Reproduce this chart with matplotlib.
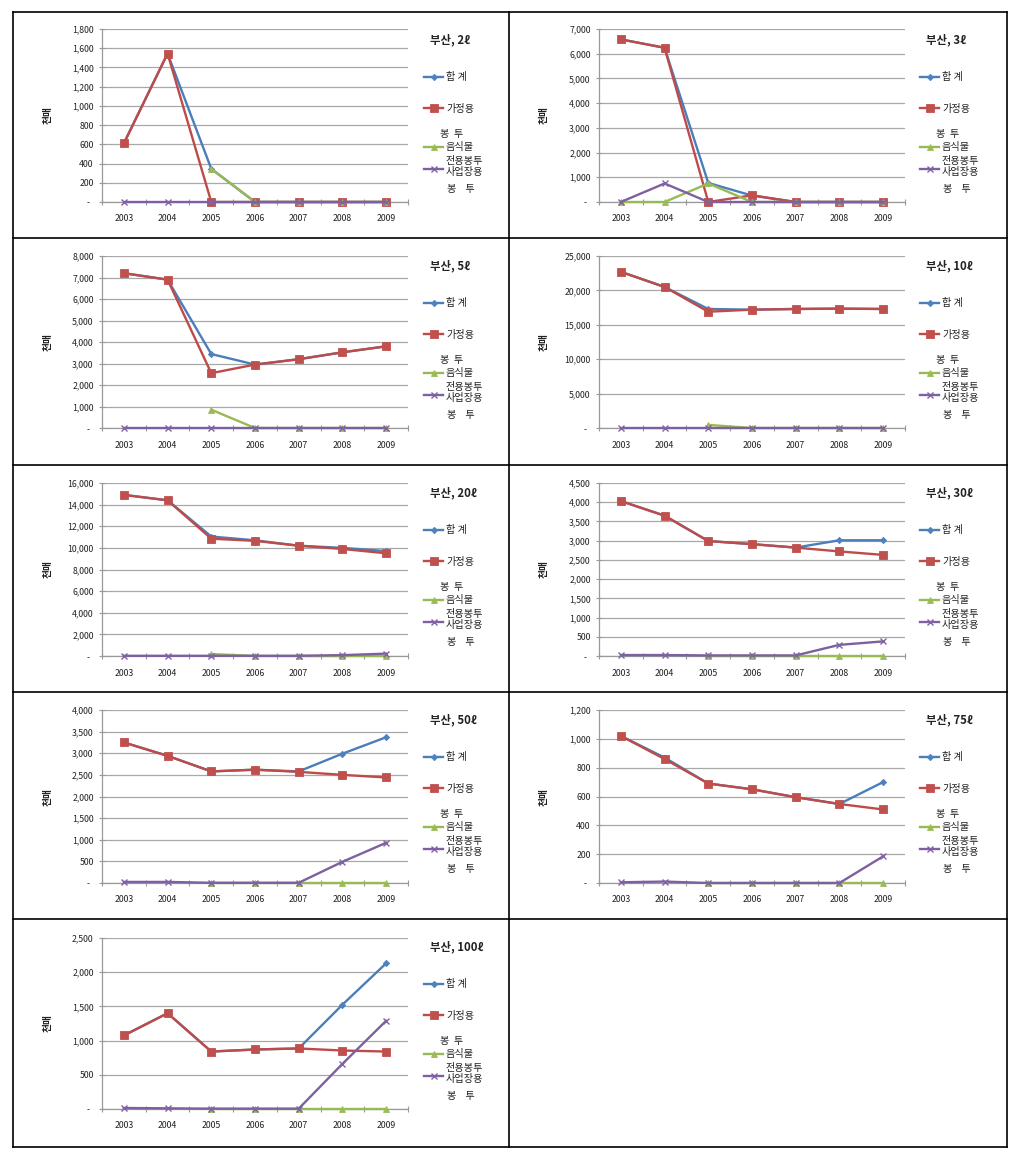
import numpy as np
import matplotlib
matplotlib.use("Agg")
import matplotlib.pyplot as plt
from matplotlib.lines import Line2D
from matplotlib.ticker import FuncFormatter, MultipleLocator, FixedLocator

plt.rcParams['font.family'] = ['Noto Sans CJK KR', 'DejaVu Sans']

nan = np.nan
years = ['2003', '2004', '2005', '2006', '2007', '2008', '2009']
series_names = ['합 계', '가정용', '음식물', '사업장용']

titles = ['부산, 2ℓ', '부산, 3ℓ', '부산, 5ℓ', '부산, 10ℓ', '부산, 20ℓ',
          '부산, 30ℓ', '부산, 50ℓ', '부산, 75ℓ', '부산, 100ℓ']
y_max = [1800, 7000, 8000, 25000, 16000, 4500, 4000, 1200, 2500]
y_step = [200, 1000, 1000, 5000, 2000, 500, 500, 200, 500]

total_2 = [610, 1545, 345, 0, 0, 0, 0]
home_2 = [610, 1545, 0, 0, 0, 0, 0]
food_2 = [nan, nan, 345, 0, 0, 0, 0]
biz_2 = [0, 0, 0, 0, 0, 0, 0]

total_3 = [6580, 6240, 770, 260, 0, 0, 0]
home_3 = [6580, 6240, 0, 270, 0, 0, 0]
food_3 = [0, 0, 750, 0, 0, 0, 0]
biz_3 = [0, 750, 0, 0, 0, 0, 0]

total_5 = [7200, 6900, 3440, 2950, 3200, 3520, 3800]
home_5 = [7200, 6900, 2550, 2950, 3200, 3520, 3800]
food_5 = [nan, nan, 850, 0, 0, 0, 0]
biz_5 = [0, 0, 0, 0, 0, 0, 0]

total_10 = [22700, 20500, 17300, 17200, 17300, 17350, 17300]
home_10 = [22700, 20500, 16900, 17200, 17300, 17350, 17300]
food_10 = [nan, nan, 450, 0, 0, 0, 0]
biz_10 = [0, 0, 0, 0, 0, 0, 0]

total_20 = [14900, 14400, 11050, 10700, 10200, 10000, 9700]
home_20 = [14900, 14400, 10850, 10650, 10200, 9900, 9500]
food_20 = [nan, nan, 180, 0, 0, 0, 0]
biz_20 = [20, 20, 20, 20, 20, 80, 220]

total_30 = [4030, 3650, 2990, 2910, 2820, 3010, 3010]
home_30 = [4030, 3650, 2990, 2910, 2820, 2720, 2630]
food_30 = [nan, nan, 0, 0, 0, 0, 0]
biz_30 = [25, 25, 15, 15, 15, 290, 380]

total_50 = [3250, 2940, 2580, 2620, 2580, 2990, 3370]
home_50 = [3250, 2940, 2580, 2620, 2570, 2500, 2440]
food_50 = [nan, nan, 0, 0, 0, 0, 0]
biz_50 = [25, 25, 5, 5, 5, 490, 930]

total_75 = [1020, 870, 690, 650, 595, 548, 700]
home_75 = [1020, 860, 690, 650, 595, 548, 510]
food_75 = [nan, nan, 0, 0, 0, 0, 0]
biz_75 = [5, 10, 0, 0, 0, 0, 185]

total_100 = [1075, 1400, 840, 870, 885, 1525, 2130]
home_100 = [1075, 1400, 840, 870, 885, 855, 840]
food_100 = [nan, nan, 0, 0, 0, 0, 0]
biz_100 = [15, 10, 5, 5, 5, 660, 1290]

panels = [
    (total_2, home_2, food_2, biz_2),
    (total_3, home_3, food_3, biz_3),
    (total_5, home_5, food_5, biz_5),
    (total_10, home_10, food_10, biz_10),
    (total_20, home_20, food_20, biz_20),
    (total_30, home_30, food_30, biz_30),
    (total_50, home_50, food_50, biz_50),
    (total_75, home_75, food_75, biz_75),
    (total_100, home_100, food_100, biz_100),
]

line_colors = ['#4A7EBB', '#BE4B48', '#98B954', '#7D60A0']
marker_face = ['#4F81BD', '#C0504D', '#9BBB59', '#8064A2']
markers = ['D', 's', '^', 'x']
msizes = [3.2, 5.2, 4.6, 4.6]

W, H = 1015, 1157
fig = plt.figure(figsize=(W / 100, H / 100), dpi=100)
fig.patch.set_facecolor('white')


def fx(x):
    return x / W


def fy(y):
    return 1 - y / H


col_left = [13, 509]
col_right = [509, 1007]
row_top = [12, 238, 465, 692, 919]
row_bottom = 1147
plot_x = [(102, 408), (599, 905)]
plot_y = [(29, 202), (256, 428), (483, 656), (710, 883), (938, 1109)]

# table borders
for y in row_top + [row_bottom]:
    fig.add_artist(Line2D([fx(col_left[0]), fx(col_right[1])], [fy(y), fy(y)],
                          color='black', lw=1.2, transform=fig.transFigure))
for x in [col_left[0], col_left[1], col_right[1]]:
    fig.add_artist(Line2D([fx(x), fx(x)], [fy(row_top[0]), fy(row_bottom)],
                          color='black', lw=1.2, transform=fig.transFigure))


def ytick_fmt(v, pos):
    if abs(v) < 1e-9:
        return '-  '
    return f'{int(round(v)):,}'


text_color = '#222222'
xpos = np.arange(len(years))

for i, (data, title) in enumerate(zip(panels, titles)):
    r, c = divmod(i, 2)
    x0, x1 = plot_x[c]
    y0, y1 = plot_y[r]
    ax = fig.add_axes([fx(x0), fy(y1), fx(x1) - fx(x0), (y1 - y0) / H])
    for k, vals in enumerate(data):
        ax.plot(xpos, vals, color=line_colors[k], lw=1.7, marker=markers[k],
                ms=msizes[k], mfc=marker_face[k], mec=marker_face[k],
                mew=1.0 if markers[k] == 'x' else 0.6, zorder=3 + k, clip_on=False)
    ax.set_xlim(-0.5, len(years) - 0.5)
    ax.set_ylim(0, y_max[i])
    ax.yaxis.set_major_locator(MultipleLocator(y_step[i]))
    ax.yaxis.set_major_formatter(FuncFormatter(ytick_fmt))
    ax.set_xticks(xpos)
    ax.set_xticklabels(years)
    ax.xaxis.set_minor_locator(FixedLocator(np.arange(-0.5, len(years), 1.0)))
    ax.tick_params(axis='x', which='major', length=0, pad=9, labelsize=6.3,
                   labelcolor=text_color)
    ax.tick_params(axis='x', which='minor', length=5, direction='inout',
                   color='#999999', width=0.8)
    ax.tick_params(axis='y', which='major', length=4, direction='inout',
                   color='#999999', width=0.8, pad=4, labelsize=6.3,
                   labelcolor=text_color)
    ax.grid(axis='y', color='#a8a8a8', lw=0.9)
    ax.set_axisbelow(True)
    for s in ['top', 'right']:
        ax.spines[s].set_visible(False)
    for s in ['left', 'bottom']:
        ax.spines[s].set_color('#999999')
        ax.spines[s].set_linewidth(0.9)

    cx = col_left[c]
    cy = row_top[r]
    # y-axis label
    fig.text(fx(cx + 35), fy((y0 + y1) / 2), '천매', rotation=90, fontsize=7,
             fontweight='bold', ha='center', va='center', color=text_color)
    # title
    fig.text(fx(cx + 417), fy(cy + 28), title, fontsize=8.2, fontweight='bold',
             ha='left', va='center', color=text_color)
    # legend
    hy = [cy + 65, cy + 96, cy + 135, cy + 157]
    for k in range(4):
        fig.add_artist(Line2D([fx(cx + 411), fx(cx + 430)], [fy(hy[k]), fy(hy[k])],
                              color=line_colors[k], lw=1.7, transform=fig.transFigure))
        fig.add_artist(Line2D([fx(cx + 420.5)], [fy(hy[k])], color=line_colors[k],
                              marker=markers[k], ms=msizes[k], mfc=marker_face[k],
                              mec=marker_face[k],
                              mew=1.0 if markers[k] == 'x' else 0.6,
                              transform=fig.transFigure))
    leg_texts = [
        ('합 계', 433, 65),
        ('가정용', 433, 97),
        ('봉  투', 427, 122),
        ('음식물', 433, 135),
        ('전용봉투', 433, 149),
        ('사업장용', 433, 160),
        ('봉    투', 434, 177),
    ]
    for t, tx, ty in leg_texts:
        fig.text(fx(cx + tx), fy(cy + ty), t, fontsize=7.3, ha='left',
                 va='center', color=text_color)

fig.savefig('out.png', dpi=100, facecolor='white')
